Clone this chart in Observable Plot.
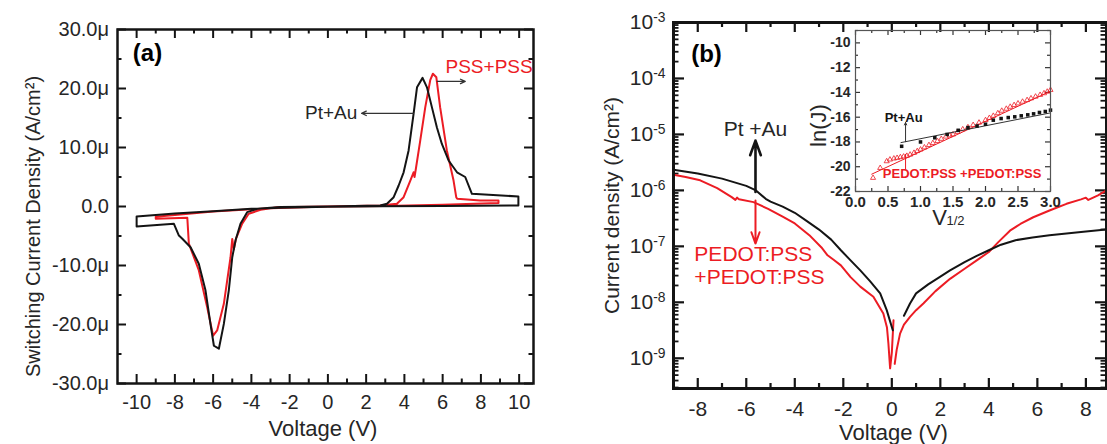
<!DOCTYPE html>
<html><head><meta charset="utf-8">
<script src="https://cdn.jsdelivr.net/npm/d3@7"></script>
<script src="https://cdn.jsdelivr.net/npm/@observablehq/plot@0.6"></script>
<style>
html,body{margin:0;padding:0;background:#fff;}
#wrap{position:relative;width:1107px;height:444px;overflow:hidden;}
#wrap > div{position:absolute;top:0;}
#pa{left:0;} #pb{left:560px;} #pi{left:790px;}
svg{overflow:visible;}
</style></head><body>
<div id="wrap"><div id="pa"></div><div id="pb"></div><div id="pi"></div></div>
<script>
// ---------- Panel (a): switching current density (µA/cm²) vs voltage ----------
const aVoltTicks = [-10, -8, -6, -4, -2, 0, 2, 4, 6, 8, 10];
const aVoltMinor = [-9, -7, -5, -3, -1, 1, 3, 5, 7, 9];
const aCurTicks = [-30, -20, -10, 0, 10, 20, 30];
const aCurMinor = [-25, -15, -5, 5, 15, 25];
const ptauA = [[-10,-1.69],[-10,-3.39],[-8.05,-2.93],[-7.79,-4.92],[-7.61,-5.47],[-7.18,-6.9],[-6.75,-9.7],[-6.4,-14.2],[-6.14,-19.9],[-5.96,-23.6],[-5.7,-24.1],[-5.44,-19.9],[-5.18,-14.2],[-5.0,-8.6],[-4.83,-5.76],[-4.57,-2.93],[-4.22,-0.96],[-3.7,-0.4],[-2.48,-0.1],[0,0],[2.74,0.17],[3.09,0.46],[3.44,1.58],[3.7,3.56],[3.96,5.8],[4.22,9.5],[4.48,15.7],[4.66,20.2],[4.95,21.8],[5.18,20.2],[5.44,16.8],[5.7,13.4],[5.96,10.6],[6.31,7.8],[6.75,5.8],[7.18,5.0],[7.53,2.15],[9.96,1.7],[9.96,0.17],[6,0.1],[2.7,0.05],[0,-0.05],[-2.5,-0.2],[-4,-0.4],[-6,-0.8],[-8,-1.2],[-10,-1.69]];
const pssA = [[-9.0,-1.75],[-9.0,-2.09],[-7.35,-1.92],[-7.27,-6.3],[-6.75,-10.8],[-6.31,-17.1],[-6.0,-21.9],[-5.79,-21.0],[-5.44,-16.5],[-5.09,-8.6],[-5.0,-5.5],[-4.92,-7.3],[-4.8,-5.4],[-4.48,-2.9],[-4.14,-1.24],[-3.52,-0.56],[-2.65,-0.12],[0,0],[2.74,0.17],[3.61,0.46],[3.96,1.58],[4.31,4.4],[4.48,5.8],[4.53,5.0],[4.6,6.4],[4.83,11.2],[5.09,16.8],[5.35,21.4],[5.49,22.5],[5.67,21.9],[5.87,16.8],[6.22,9.5],[6.57,4.4],[6.71,1.58],[6.76,1.3],[7.96,1.0],[8.92,1.0],[8.92,0.6],[6,0.3],[3,0.1],[0,-0.02],[-3,-0.3],[-6,-0.85],[-9.0,-1.75]];
const aNotes = [{x:-9.43, y:25.9, t:"(a)"}];
const aPtLabel = [{x:1.54, y:15.8, t:"Pt+Au"}];
const aPssLabel = [{x:6.15, y:23.6, t:"PSS+PSS"}];
const aArrows = [{x1:4.47, y1:15.8, x2:1.76, y2:15.8}, {x1:5.72, y1:21.2, x2:7.18, y2:21.2}];

// ---------- Panel (b): current density (A/cm², log) vs voltage ----------
const bVoltTicks = [-8, -6, -4, -2, 0, 2, 4, 6, 8];
const bVoltMinor = [-9, -7, -5, -3, -1, 1, 3, 5, 7];
const bDecades = [-9, -8, -7, -6, -5, -4, -3];
// [voltage, log10(J)]
const ptauBLeft = [[-9.0,-5.63],[-8.0,-5.70],[-7.0,-5.79],[-6.0,-5.92],[-5.6,-6.00],[-5.2,-6.15],[-5.0,-6.20],[-4.5,-6.29],[-4.0,-6.40],[-3.5,-6.55],[-3.0,-6.70],[-2.5,-6.88],[-2.1,-7.07],[-1.7,-7.25],[-1.3,-7.43],[-0.9,-7.62],[-0.48,-7.84],[-0.21,-8.14],[0.04,-8.50]];
const ptauBRight = [[0.5,-8.24],[0.75,-8.02],[1.0,-7.84],[1.5,-7.68],[2.0,-7.54],[2.4,-7.43],[3.0,-7.28],[3.5,-7.17],[4.0,-7.07],[4.5,-6.97],[5.1,-6.89],[5.8,-6.84],[6.5,-6.80],[7.2,-6.77],[7.9,-6.74],[8.85,-6.70]];
const pedotBLeft = [[-9.0,-5.72],[-8.5,-5.76],[-7.9,-5.82],[-7.2,-5.96],[-6.6,-6.12],[-6.45,-6.17],[-6.38,-6.13],[-6.3,-6.16],[-5.7,-6.21],[-5.1,-6.33],[-4.5,-6.47],[-4.0,-6.59],[-3.4,-6.80],[-2.9,-7.02],[-2.65,-7.16],[-2.4,-7.24],[-2.1,-7.34],[-1.7,-7.55],[-1.3,-7.72],[-0.76,-7.90],[-0.35,-8.20],[-0.2,-8.45],[-0.14,-8.74],[-0.07,-9.18],[0.0,-8.9],[0.07,-8.32]];
const pedotBRight = [[0.12,-9.10],[0.2,-8.85],[0.34,-8.56],[0.5,-8.40],[0.75,-8.26],[1.0,-8.14],[1.3,-8.02],[1.8,-7.80],[2.4,-7.58],[3.0,-7.40],[3.5,-7.25],[4.0,-7.10],[4.4,-6.92],[4.87,-6.72],[5.3,-6.60],[5.83,-6.48],[6.5,-6.36],[7.2,-6.24],[7.8,-6.16],[8.0,-6.13],[8.1,-6.17],[8.5,-6.09],[8.85,-6.00]];
const bNotes = [{x:-7.64, e:-3.56, t:"(b)"}];
const bPtLabel = [{x:-5.62, e:-4.90, t:"Pt +Au"}];
const bPedotLabel = [{x:-8.14, e:-7.14, t:"PEDOT:PSS"}, {x:-8.14, e:-7.55, t:"+PEDOT:PSS"}];
const bBlackArrow = [{x:-5.62, e1:-6.03, e2:-5.11}];
const bRedArrow = [{x:-5.62, e1:-6.18, e2:-6.95}];

// ---------- Inset: ln(J) vs V^1/2 ----------
const iXTicks = [0, 0.5, 1.0, 1.5, 2.0, 2.5, 3.0];
const iXMinor = [0.25, 0.75, 1.25, 1.75, 2.25, 2.75];
const iYTicks = [-22, -20, -18, -16, -14, -12, -10];
const iYMinor = [-21, -19, -17, -15, -13, -11, -9];
const ptauInset = [[0.71,-18.35],[1.0,-18.0],[1.22,-17.66],[1.41,-17.39],[1.58,-17.06],[1.73,-16.84],[1.87,-16.71],[2.0,-16.57],[2.12,-16.24],[2.24,-16.11],[2.35,-16.03],[2.45,-15.97],[2.55,-15.89],[2.65,-15.81],[2.74,-15.73],[2.83,-15.62],[2.92,-15.54],[3.0,-15.43]];
const ptauFit = [[0.7,-18.05],[3.0,-15.65]];
const pedotInset = [[0.27,-20.9],[0.38,-20.1],[0.48,-19.56],[0.53,-19.42],[0.59,-19.34],[0.64,-19.29],[0.69,-19.23],[0.74,-19.18],[0.79,-19.12],[0.84,-19.02],[0.9,-18.88],[0.95,-18.74],[1.0,-18.61],[1.06,-18.44],[1.13,-18.25],[1.19,-18.09],[1.26,-17.93],[1.32,-17.75],[1.39,-17.57],[1.45,-17.47],[1.5,-17.39],[1.57,-17.19],[1.65,-16.98],[1.73,-16.81],[1.81,-16.63],[1.9,-16.44],[2.0,-16.24],[2.06,-16.06],[2.12,-15.89],[2.19,-15.68],[2.25,-15.48],[2.32,-15.32],[2.38,-15.16],[2.44,-15.02],[2.5,-14.89],[2.57,-14.75],[2.64,-14.62],[2.7,-14.48],[2.77,-14.34],[2.84,-14.2],[2.9,-14.07],[2.95,-13.94],[3.0,-13.8]];
const pedotFit = [[0.25,-20.6],[3.0,-13.9]];
const iPtLabel = [{x:0.74, y:-16.03, t:"Pt+Au"}];
const iPedotLabel = [{x:1.64, y:-20.59, t:"PEDOT:PSS +PEDOT:PSS"}];
const iBlackArrow = [{x:0.77, y1:-17.98, y2:-16.43}];
const iRedArrow = [{x:0.77, y1:-19.0, y2:-20.2}];

// ---------- styling ----------
const FONT = '"Liberation Sans", Arial, Helvetica, sans-serif';
const RED = "#ec1c24", BLK = "#141414", TXT = "#262626";

function inTicks(kind, vals, len, innerW, innerH, sw, stroke = BLK) {
  if (kind === "x") return [
    Plot.ruleX(vals, {insetTop: innerH - len, stroke, strokeWidth: sw}),
    Plot.ruleX(vals, {insetBottom: innerH - len, stroke, strokeWidth: sw})
  ];
  return [
    Plot.ruleY(vals, {insetRight: innerW - len, stroke, strokeWidth: sw}),
    Plot.ruleY(vals, {insetLeft: innerW - len, stroke, strokeWidth: sw})
  ];
}

// Panel (a)
{
  const w = 545, h = 444, ml = 117, mr = 12, mt = 29, mb = 61;
  const iw = w - ml - mr, ih = h - mt - mb;
  const fig = Plot.plot({
    width: w, height: h, marginLeft: ml, marginRight: mr, marginTop: mt, marginBottom: mb,
    x: {domain: [-11, 10.75]}, y: {domain: [-30, 30]},
    style: {fontFamily: FONT, background: "transparent", overflow: "visible"},
    marks: [
      ...inTicks("x", aVoltTicks, 9, iw, ih, 2),
      ...inTicks("x", aVoltMinor, 4.5, iw, ih, 2),
      ...inTicks("y", aCurTicks, 9, iw, ih, 2),
      ...inTicks("y", aCurMinor, 4.5, iw, ih, 2),
      Plot.line(pssA, {x: d => d[0], y: d => d[1], stroke: RED, strokeWidth: 2, strokeLinejoin: "round"}),
      Plot.line(ptauA, {x: d => d[0], y: d => d[1], stroke: BLK, strokeWidth: 2, strokeLinejoin: "round"}),
      Plot.frame({stroke: BLK, strokeWidth: 2.5}),
      Plot.axisX(aVoltTicks, {tickSize: 0, tickPadding: 11, fontSize: 20, label: null, color: TXT, tickFormat: d => String(d)}),
      Plot.axisY(aCurTicks, {tickSize: 0, tickPadding: 8.5, fontSize: 20, label: null, color: TXT, tickFormat: d => d === 0 ? "0.0" : d.toFixed(1) + "μ"}),
      Plot.text(["Switching Current Density (A/cm²)"], {frameAnchor: "left", rotate: -90, dx: -84, dy: 20, fontSize: 20, textAnchor: "middle", lineAnchor: "middle", fill: TXT}),
      Plot.text(["Voltage (V)"], {frameAnchor: "bottom", dx: -2.5, dy: 45, fontSize: 22, textAnchor: "middle", lineAnchor: "middle", fill: TXT}),
      Plot.text(aNotes, {x: "x", y: "y", text: "t", fontSize: 24, fontWeight: "bold", fill: "#000"}),
      Plot.text(aPtLabel, {x: "x", y: "y", text: "t", fontSize: 19, textAnchor: "end", fill: TXT}),
      Plot.text(aPssLabel, {x: "x", y: "y", text: "t", fontSize: 19, textAnchor: "start", fill: RED}),
      Plot.arrow(aArrows, {x1: "x1", y1: "y1", x2: "x2", y2: "y2", stroke: "#333", strokeWidth: 1.3, headLength: 6, headAngle: 50})
    ]
  });
  document.getElementById("pa").appendChild(fig);
}

// Panel (b)
{
  const w = 547, h = 444, ml = 113, mr = 1, mt = 22, mb = 56;
  const iw = w - ml - mr, ih = h - mt - mb;
  const bMinor = [];
  for (let k = -10; k <= -4; k++) for (let m = 2; m <= 9; m++) {
    const v = m * Math.pow(10, k);
    if (v > Math.pow(10, -9.54) && v < 1e-3) bMinor.push(v);
  }
  const dec = bDecades.map(k => Math.pow(10, k));
  const toJ = arr => arr.map(([x, e]) => ({x, j: Math.pow(10, e)}));
  const fig = Plot.plot({
    width: w, height: h, marginLeft: ml, marginRight: mr, marginTop: mt, marginBottom: mb,
    x: {domain: [-9, 8.85]}, y: {type: "log", domain: [Math.pow(10, -9.54), 1e-3]},
    style: {fontFamily: FONT, background: "transparent", overflow: "visible"},
    marks: [
      ...inTicks("x", bVoltTicks, 10, iw, ih, 2.2),
      ...inTicks("x", bVoltMinor, 5, iw, ih, 2.2),
      ...inTicks("y", dec, 11, iw, ih, 2.2),
      ...inTicks("y", bMinor, 5.5, iw, ih, 1.8),
      Plot.line(toJ(pedotBLeft), {x: "x", y: "j", stroke: RED, strokeWidth: 2, clip: true}),
      Plot.line(toJ(pedotBRight), {x: "x", y: "j", stroke: RED, strokeWidth: 2, clip: true}),
      Plot.line(toJ(ptauBLeft), {x: "x", y: "j", stroke: BLK, strokeWidth: 2, clip: true}),
      Plot.line(toJ(ptauBRight), {x: "x", y: "j", stroke: BLK, strokeWidth: 2, clip: true}),
      Plot.frame({stroke: BLK, strokeWidth: 3}),
      Plot.axisX(bVoltTicks, {tickSize: 0, tickPadding: 13, fontSize: 21, label: null, color: TXT, tickFormat: d => String(d)}),
      Plot.axisY(dec, {tickSize: 0, tickPadding: 8, fontSize: 21, label: null, color: TXT, tickFormat: d => "10|" + Math.round(Math.log10(d))}),
      Plot.text(["Current density (A/cm²)"], {frameAnchor: "left", rotate: -90, dx: -61, dy: 0, fontSize: 21, textAnchor: "middle", lineAnchor: "middle", fill: TXT}),
      Plot.text(["Voltage (V)"], {frameAnchor: "bottom", dx: 3.5, dy: 44, fontSize: 22, textAnchor: "middle", lineAnchor: "middle", fill: TXT}),
      Plot.text(bNotes, {x: "x", y: d => Math.pow(10, d.e), text: "t", fontSize: 24, fontWeight: "bold", fill: "#000"}),
      Plot.text(bPtLabel, {x: "x", y: d => Math.pow(10, d.e), text: "t", fontSize: 21, fill: TXT}),
      Plot.text(bPedotLabel, {x: "x", y: d => Math.pow(10, d.e), text: "t", fontSize: 21, textAnchor: "start", fill: RED}),
      Plot.arrow(bBlackArrow, {x1: "x", x2: "x", y1: d => Math.pow(10, d.e1), y2: d => Math.pow(10, d.e2), stroke: BLK, strokeWidth: 2.6, headLength: 9, headAngle: 40}),
      Plot.arrow(bRedArrow, {x1: "x", x2: "x", y1: d => Math.pow(10, d.e1), y2: d => Math.pow(10, d.e2), stroke: RED, strokeWidth: 2, headLength: 9, headAngle: 40})
    ]
  });
  // superscript exponents on the log tick labels
  fig.querySelectorAll('g[aria-label="y-axis tick label"] text').forEach(t => {
    const [base, ex] = t.textContent.split("|");
    t.textContent = "";
    const ns = "http://www.w3.org/2000/svg";
    const a = document.createElementNS(ns, "tspan"); a.textContent = base;
    const b = document.createElementNS(ns, "tspan"); b.textContent = ex;
    b.setAttribute("dy", "-0.5em"); b.setAttribute("font-size", "0.66em");
    t.appendChild(a); t.appendChild(b);
  });
  document.getElementById("pb").appendChild(fig);
}

// Inset
{
  const w = 270, h = 240, ml = 65, mr = 10, mt = 30, mb = 49;
  const iw = w - ml - mr, ih = h - mt - mb;
  const fig = Plot.plot({
    width: w, height: h, marginLeft: ml, marginRight: mr, marginTop: mt, marginBottom: mb,
    x: {domain: [0, 3]}, y: {domain: [-22, -9]},
    style: {fontFamily: FONT, background: "transparent", overflow: "visible"},
    marks: [
      ...inTicks("x", iXTicks, 5, iw, ih, 1.2, "#333"),
      ...inTicks("x", iXMinor, 3, iw, ih, 1.2, "#333"),
      ...inTicks("y", iYTicks, 5, iw, ih, 1.2, "#333"),
      ...inTicks("y", iYMinor, 3, iw, ih, 1.2, "#333"),
      Plot.line(pedotFit, {x: d => d[0], y: d => d[1], stroke: RED, strokeWidth: 1}),
      Plot.dot(pedotInset, {x: d => d[0], y: d => d[1], symbol: "triangle", r: 1.9, stroke: RED, strokeWidth: 0.8, fill: "none"}),
      Plot.line(ptauFit, {x: d => d[0], y: d => d[1], stroke: "#333", strokeWidth: 1}),
      Plot.dot(ptauInset, {x: d => d[0], y: d => d[1], symbol: "square", r: 2.0, fill: BLK, stroke: "none"}),
      Plot.frame({stroke: "#555", strokeWidth: 1.2}),
      Plot.axisX(iXTicks, {tickSize: 0, tickPadding: 5, fontSize: 15, fontWeight: "bold", label: null, color: TXT, tickFormat: d => d.toFixed(1)}),
      Plot.axisY(iYTicks, {tickSize: 0, tickPadding: 5, fontSize: 14, fontWeight: "bold", label: null, color: TXT, tickFormat: d => String(d)}),
      Plot.text(["ln(J)"], {frameAnchor: "left", rotate: -90, dx: -37, dy: 14.5, fontSize: 22, textAnchor: "middle", lineAnchor: "middle", fill: TXT}),
      Plot.text(["V"], {frameAnchor: "bottom", dx: -13.5, dy: 26, fontSize: 22, textAnchor: "middle", lineAnchor: "middle", fill: TXT}),
      Plot.text(["1/2"], {frameAnchor: "bottom", dx: -6.5, dy: 29, fontSize: 13, textAnchor: "start", lineAnchor: "middle", fill: TXT}),
      Plot.text(iPtLabel, {x: "x", y: "y", text: "t", fontSize: 13, fontWeight: "bold", fill: BLK}),
      Plot.text(iPedotLabel, {x: "x", y: "y", text: "t", fontSize: 13, fontWeight: "bold", fill: RED}),
      Plot.arrow(iBlackArrow, {x1: "x", x2: "x", y1: "y1", y2: "y2", stroke: "#333", strokeWidth: 1, headLength: 4, headAngle: 50}),
      Plot.arrow(iRedArrow, {x1: "x", x2: "x", y1: "y1", y2: "y2", stroke: RED, strokeWidth: 1, headLength: 0})
    ]
  });
  document.getElementById("pi").appendChild(fig);
}
</script>
</body></html>
